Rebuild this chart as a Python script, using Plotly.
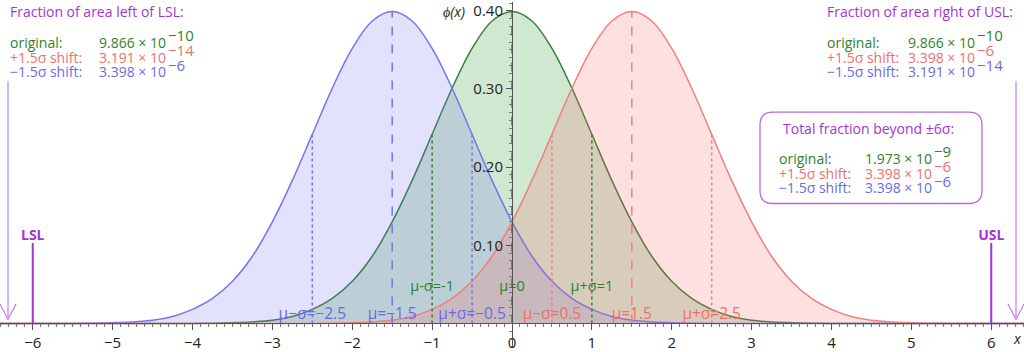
import plotly.graph_objects as go

# ---------------- data ----------------
# standard normal density (half profile, symmetric)
z_half = [0.0, 0.25, 0.5, 0.75, 1.0, 1.25, 1.5, 1.75, 2.0, 2.25, 2.5, 2.75,
          3.0, 3.25, 3.5, 3.75, 4.0, 4.5, 5.0]
phi_half = [0.399, 0.387, 0.352, 0.301, 0.242, 0.183, 0.130, 0.086, 0.054,
            0.032, 0.018, 0.009, 0.004, 0.002, 0.001, 0.0004, 0.0001, 0.0, 0.0]

series_names = ["original", "−1.5σ shift", "+1.5σ shift"]
series_mu = [0.0, -1.5, 1.5]
sigma = 1.0
mu_labels = [
    ["μ-σ=-1", "μ=0", "μ+σ=1"],
    ["μ−σ=−2.5", "μ=−1.5", "μ+σ=−0.5"],
    ["μ−σ=0.5", "μ=1.5", "μ+σ=2.5"],
]
mu_label_y = [0.046, 0.0113, 0.0113]
mu_label_size = [14.5, 15.5, 15.5]

spec_limits = [-6, 6]
spec_names = ["LSL", "USL"]

left_rows = [("original:", "9.866 × 10", "−10"),
             ("+1.5σ shift:", "3.191 × 10", "−14"),
             ("−1.5σ shift:", "3.398 × 10", "−6")]
right_rows = [("original:", "9.866 × 10", "−10"),
              ("+1.5σ shift:", "3.398 × 10", "−6"),
              ("−1.5σ shift:", "3.191 × 10", "−14")]
total_rows = [("original:", "1.973 × 10", "−9"),
              ("+1.5σ shift:", "3.398 × 10", "−6"),
              ("−1.5σ shift:", "3.398 × 10", "−6")]

x_ticks = [-6, -5, -4, -3, -2, -1, 0, 1, 2, 3, 4, 5, 6]
y_ticks = [0.10, 0.20, 0.30, 0.40]

# ---------------- style ----------------
W, H = 1024, 352
FONT = "Open Sans"
line_cols = ["#3c7d3c", "#7474ee", "#ef7f7f"]
fill_cols = ["rgba(40,150,40,0.22)", "rgba(110,110,240,0.2)", "rgba(250,100,100,0.2)"]
text_cols = ["#2f7f2f", "#6a6ae8", "#ee7070"]
row_cols = ["#2f7f2f", "#ee7070", "#6a6ae8"]
PURPLE = "#a535d0"
PURPLE_LIGHT = "#c58ae6"
XR = [-6.41, 6.41]
YR = [-0.0314, 0.4113]

fig = go.Figure()

# full symmetric profile
z_full = [-z for z in reversed(z_half[1:])] + z_half
p_full = list(reversed(phi_half[1:])) + phi_half

for i, mu in enumerate(series_mu):
    xs = [-7.0] + [mu + z for z in z_full] + [7.0]
    ys = [0.0] + p_full + [0.0]
    fig.add_trace(go.Scatter(x=xs, y=ys, mode="lines", line_shape="spline",
                             line=dict(color=line_cols[i], width=1.5),
                             fill="tozeroy", fillcolor=fill_cols[i],
                             hoverinfo="skip"))

# mean (dashed) and mean±sigma (dotted) lines
peak = phi_half[0]
sig_h = phi_half[z_half.index(1.0)]
for i, mu in enumerate(series_mu):
    fig.add_trace(go.Scatter(x=[mu, mu], y=[0, peak], mode="lines",
                             line=dict(color=line_cols[i], width=1.5, dash="dash"),
                             hoverinfo="skip"))
    for s in (-sigma, sigma):
        fig.add_trace(go.Scatter(x=[mu + s, mu + s], y=[0, sig_h], mode="lines",
                                 line=dict(color=line_cols[i], width=1.5, dash="dot"),
                                 hoverinfo="skip"))
for i, mu in enumerate(series_mu):
    fig.add_trace(go.Scatter(x=[mu - sigma, mu, mu + sigma], y=[mu_label_y[i]] * 3,
                             mode="text", text=mu_labels[i],
                             textfont=dict(family=FONT, size=mu_label_size[i], color=text_cols[i]),
                             hoverinfo="skip"))

# spec limit lines, labels and arrows
arrow_x = [-6.31, 6.31]
for k, lim in enumerate(spec_limits):
    fig.add_trace(go.Scatter(x=[lim, lim], y=[0, 0.103], mode="lines",
                             line=dict(color=PURPLE, width=2), hoverinfo="skip"))
    fig.add_trace(go.Scatter(x=[lim], y=[0.111], mode="text", text=["<b>" + spec_names[k] + "</b>"],
                             textfont=dict(family=FONT, size=14, color=PURPLE),
                             hoverinfo="skip"))
    ax = arrow_x[k]
    fig.add_trace(go.Scatter(x=[ax, ax], y=[0.31, 0.005], mode="lines",
                             line=dict(color=PURPLE_LIGHT, width=1.3), hoverinfo="skip"))
    fig.add_trace(go.Scatter(x=[ax - 0.1, ax, ax + 0.1], y=[0.025, 0.005, 0.025], mode="lines",
                             line=dict(color=PURPLE_LIGHT, width=1.3), hoverinfo="skip"))


def px(x):
    return x / W


def py(y):
    return 1 - y / H


def ann(text, x, y, color, size=14, xanchor="left", italic=False):
    if italic:
        text = "<i>" + text + "</i>"
    fig.add_annotation(text=text, x=px(x), y=py(y), xref="paper", yref="paper",
                       xanchor=xanchor, yanchor="middle", showarrow=False,
                       font=dict(family=FONT, size=size, color=color))


EXP_DX = 69


def block(rows, lab_x, val_x, y_start):
    for r, (lab, v, e) in enumerate(rows):
        yy = y_start + 15 * r
        ann(lab, lab_x, yy, row_cols[r])
        ann(v, val_x, yy, row_cols[r])
        ann(e, val_x + EXP_DX, yy - 7, row_cols[r], size=15)


# left block
ann("Fraction of area left of LSL:", 8, 10, PURPLE)
block(left_rows, 8, 97, 41)

# right block
ann("Fraction of area right of USL:", 1015, 10, PURPLE, xanchor="right")
block(right_rows, 825, 906, 41)

# boxed totals
bx0, bx1, by0, by1, rad = 760, 982, 112, 205, 13
X0, X1 = px(bx0), px(bx1)
Y0, Y1 = py(by1), py(by0)
rx, ry = rad / W, rad / H
path = (f"M {X0+rx},{Y1} L {X1-rx},{Y1} Q {X1},{Y1} {X1},{Y1-ry} "
        f"L {X1},{Y0+ry} Q {X1},{Y0} {X1-rx},{Y0} L {X0+rx},{Y0} "
        f"Q {X0},{Y0} {X0},{Y0+ry} L {X0},{Y1-ry} Q {X0},{Y1} {X0+rx},{Y1} Z")
fig.add_shape(type="path", path=path, xref="paper", yref="paper",
              line=dict(color="#b56ae0", width=1.3), fillcolor="white", layer="above")
ann("Total fraction beyond ±6σ:", 868, 129, PURPLE, xanchor="center")
block(total_rows, 777, 863, 159)

# axis names
ann("ϕ(x)", 441, 10, "#222222", italic=True)
ann("x", 1017, 342, "#222222", italic=True, xanchor="center")

y0_frac = (0 - YR[0]) / (YR[1] - YR[0])
fig.update_layout(
    width=W, height=H, margin=dict(l=0, r=0, t=0, b=0),
    paper_bgcolor="white", plot_bgcolor="white",
    showlegend=False, hovermode=False,
    font=dict(family=FONT, size=14, color="#222222"),
    xaxis=dict(range=XR, anchor="free", position=y0_frac, showgrid=False, zeroline=False,
               showline=True, linecolor="#555555", linewidth=1,
               tickmode="array", tickvals=x_ticks, ticks="outside", ticklen=6,
               tickcolor="#555555", tickfont=dict(family=FONT, size=15, color="#222222"),
               minor=dict(dtick=0.1, tick0=0, ticks="outside", ticklen=3, tickcolor="#777777"),
               layer="above traces", fixedrange=True, ticklabeloverflow="allow"),
    yaxis=dict(range=YR, anchor="free", position=0.5, showgrid=False, zeroline=False,
               showline=True, linecolor="#555555", linewidth=1,
               tickmode="array", tickvals=y_ticks, tickformat=".2f", ticks="outside", ticklen=6,
               tickcolor="#555555", tickfont=dict(family=FONT, size=15, color="#222222"),
               minor=dict(dtick=0.01, tick0=0, ticks="outside", ticklen=3, tickcolor="#777777"),
               layer="above traces", fixedrange=True, ticklabeloverflow="allow"),
)

fig.write_html("out.html", config={"displayModeBar": False})
